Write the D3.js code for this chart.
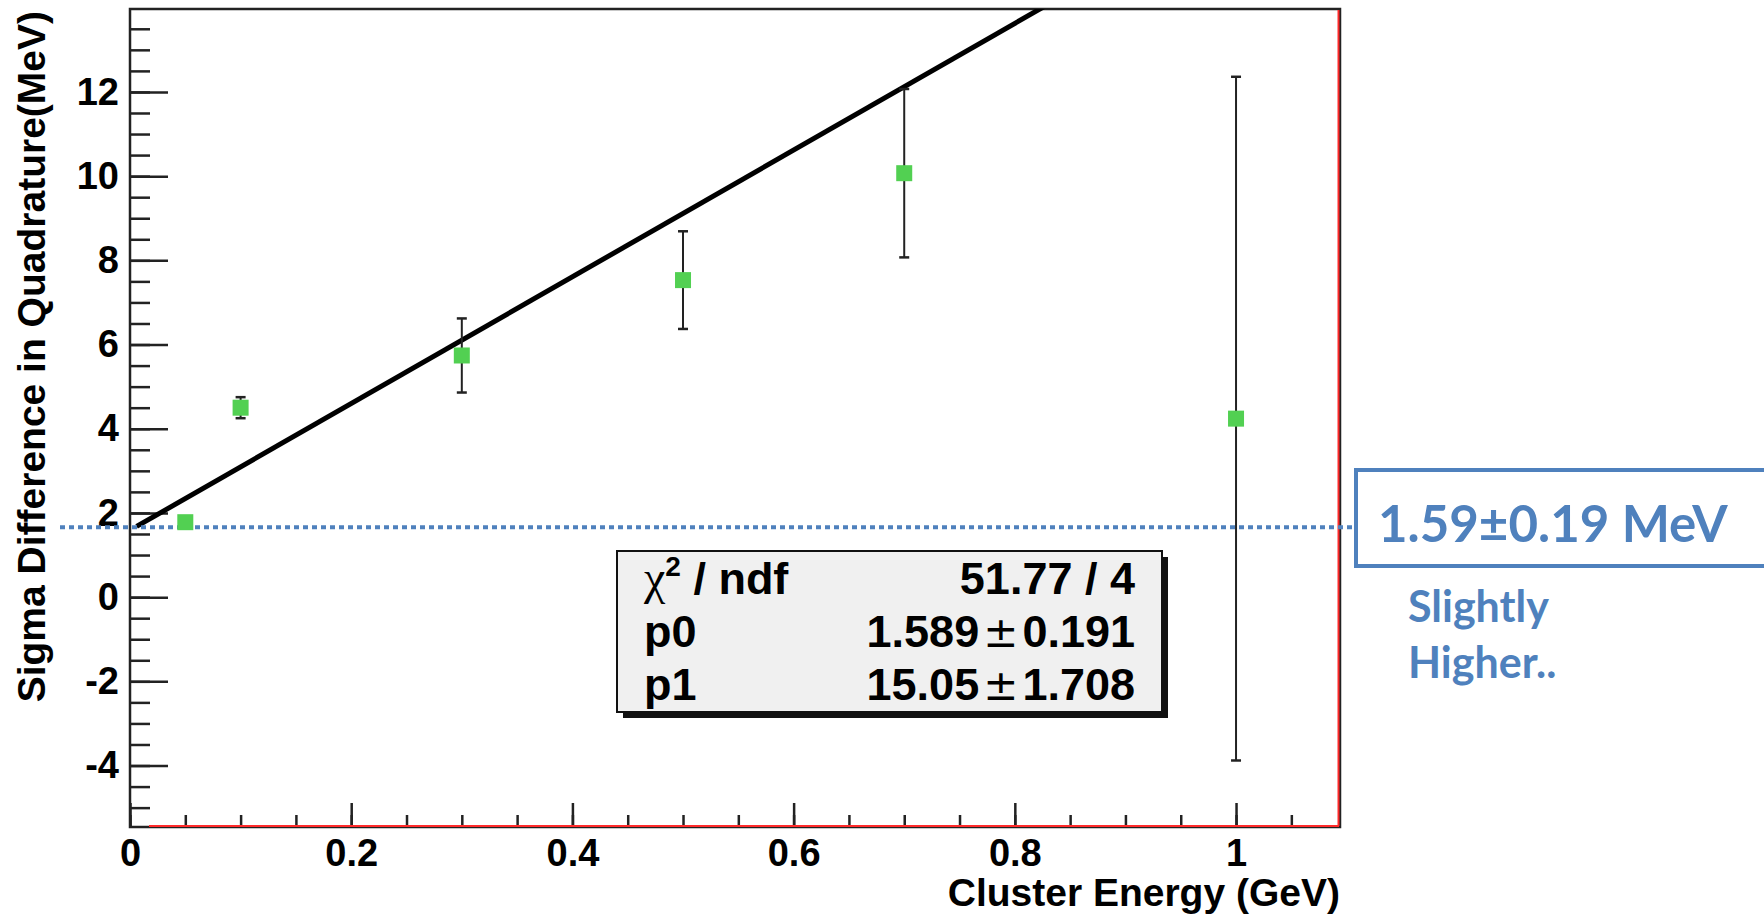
<!DOCTYPE html>
<html>
<head>
<meta charset="utf-8">
<script src="https://cdn.jsdelivr.net/npm/d3@7"></script>
<style>
  body { margin: 0; background: #fff; }
  .tick text { font-family: "Liberation Sans", Arial, sans-serif; font-weight: bold; font-size: 38px; fill: #000; }
  .tick line { stroke: #222; stroke-width: 2.5px; }
</style>
</head>
<body>
<div id="chart"></div>
<script>
// data
const energy = [0.05, 0.1, 0.3, 0.5, 0.7, 1.0];
const sigmaDiff = [1.78, 4.5, 5.74, 7.53, 10.07, 4.24];
const sigmaErr = [0.1, 0.25, 0.88, 1.16, 2.0, 8.12];
const fitP0 = 1.589;
const fitP1 = 15.05;
const fitStart = 0.006;
const xMajorTicks = [0, 0.2, 0.4, 0.6, 0.8, 1];
const xMinorTicks = d3.range(0, 1.09, 0.05);
const yMajorTicks = [-4, -2, 0, 2, 4, 6, 8, 10, 12];
const yMinorTicks = d3.range(-5, 13.9, 0.5);
const statLabels = ['p0', 'p1'];
const statValues = [['1.589', '0.191'], ['15.05', '1.708']];
const chiText = '51.77 / 4';
const annotValue = 1.66;
const annotText = '1.59\u00b10.19 MeV';
const noteLines = ['Slightly', 'Higher..'];

const width = 1764;
const height = 917;
const frame = {left: 130, top: 9, right: 1340, bottom: 827};
const blue = '#4f81bd';

const svg = d3.select('#chart').append('svg')
  .attr('width', width)
  .attr('height', height);

const xScale = d3.scaleLinear()
  .domain([0, 1.094])
  .range([frame.left, frame.right]);

const yScale = d3.scaleLinear()
  .domain([-5.46, 13.97])
  .range([frame.bottom, frame.top]);

svg.append('clipPath').attr('id', 'plotclip')
  .append('rect')
  .attr('x', frame.left).attr('y', frame.top)
  .attr('width', frame.right - frame.left)
  .attr('height', frame.bottom - frame.top);

// axes, ticks pointing inward
const yMinor = svg.append('g')
  .attr('transform', `translate(${frame.left},0)`)
  .call(d3.axisLeft(yScale).tickValues(yMinorTicks).tickSize(-20).tickFormat(''));
yMinor.select('.domain').remove();

const yMajor = svg.append('g')
  .attr('transform', `translate(${frame.left},0)`)
  .call(d3.axisLeft(yScale).tickValues(yMajorTicks).tickSize(-38).tickPadding(11).tickFormat(d => String(d)));
yMajor.select('.domain').remove();

const xMinor = svg.append('g')
  .attr('transform', `translate(0,${frame.bottom})`)
  .call(d3.axisBottom(xScale).tickValues(xMinorTicks).tickSize(-12).tickFormat(''));
xMinor.select('.domain').remove();

const xMajor = svg.append('g')
  .attr('transform', `translate(0,${frame.bottom})`)
  .call(d3.axisBottom(xScale).tickValues(xMajorTicks).tickSize(-24).tickPadding(12).tickFormat(d => String(d)));
xMajor.select('.domain').remove();

// frame
svg.append('rect')
  .attr('x', frame.left).attr('y', frame.top)
  .attr('width', frame.right - frame.left)
  .attr('height', frame.bottom - frame.top)
  .attr('fill', 'none')
  .attr('stroke', '#222')
  .attr('stroke-width', 2.5);

svg.append('line')
  .attr('x1', frame.left + 19).attr('x2', frame.right - 1)
  .attr('y1', frame.bottom - 1).attr('y2', frame.bottom - 1)
  .attr('stroke', '#ff2a2a').attr('stroke-width', 2);
svg.append('line')
  .attr('x1', frame.right - 1.5).attr('x2', frame.right - 1.5)
  .attr('y1', frame.top + 1).attr('y2', frame.bottom - 1)
  .attr('stroke', '#ff2a2a').attr('stroke-width', 2);

// axis titles
svg.append('text')
  .attr('x', frame.right)
  .attr('y', 906)
  .attr('text-anchor', 'end')
  .style('font-family', '"Liberation Sans", Arial, sans-serif')
  .style('font-weight', 'bold')
  .style('font-size', '39px')
  .text('Cluster Energy (GeV)');

svg.append('text')
  .attr('transform', `translate(45,${frame.top + 2}) rotate(-90)`)
  .attr('text-anchor', 'end')
  .style('font-family', '"Liberation Sans", Arial, sans-serif')
  .style('font-weight', 'bold')
  .style('font-size', '39px')
  .text('Sigma Difference in Quadrature(MeV)');

// fit line
const xEnd = yScale.invert(frame.top);
const fitLine = d3.line()
  .x(d => xScale(d))
  .y(d => yScale(fitP0 + fitP1 * d));

svg.append('path')
  .datum([fitStart, (xEnd - fitP0) / fitP1 + 0.01])
  .attr('d', fitLine)
  .attr('clip-path', 'url(#plotclip)')
  .attr('fill', 'none')
  .attr('stroke', '#000')
  .attr('stroke-width', 5);

// dotted annotation line
svg.append('line')
  .attr('x1', 60).attr('x2', 1356)
  .attr('y1', yScale(annotValue)).attr('y2', yScale(annotValue))
  .attr('stroke', blue)
  .attr('stroke-width', 4)
  .attr('stroke-dasharray', '5,4');

// error bars and points
const pts = svg.append('g');
energy.forEach((e, i) => {
  const g = pts.append('g');
  const cx = xScale(e);
  const lo = yScale(sigmaDiff[i] - sigmaErr[i]);
  const hi = yScale(sigmaDiff[i] + sigmaErr[i]);
  g.append('line')
    .attr('x1', cx).attr('x2', cx).attr('y1', lo).attr('y2', hi)
    .attr('stroke', '#222').attr('stroke-width', 2);
  [lo, hi].forEach(yy => {
    g.append('line')
      .attr('x1', cx - 5).attr('x2', cx + 5).attr('y1', yy).attr('y2', yy)
      .attr('stroke', '#222').attr('stroke-width', 2.5);
  });
  g.append('rect')
    .attr('x', cx - 8).attr('y', yScale(sigmaDiff[i]) - 8)
    .attr('width', 16).attr('height', 16)
    .attr('fill', '#52d052');
});

// stats box
const box = {x: 617, y: 551, w: 545, h: 161};
svg.append('rect')
  .attr('x', box.x + 6).attr('y', box.y + 6)
  .attr('width', box.w).attr('height', box.h)
  .attr('fill', '#111');
svg.append('rect')
  .attr('x', box.x).attr('y', box.y)
  .attr('width', box.w).attr('height', box.h)
  .attr('fill', '#f0f0f0')
  .attr('stroke', '#111')
  .attr('stroke-width', 2);

const statFont = '"Liberation Sans", Arial, sans-serif';
const rowY = [594, 647, 700];
const labelX = box.x + 27;
const valueX = box.x + box.w - 27;

const chi = svg.append('text')
  .attr('x', labelX).attr('y', rowY[0])
  .style('font-family', statFont)
  .style('font-weight', 'bold')
  .style('font-size', '45px');
chi.append('tspan')
  .style('font-family', '"Liberation Serif", "DejaVu Serif", serif')
  .style('font-weight', 'normal')
  .style('font-size', '48px')
  .text('\u03c7');
chi.append('tspan')
  .attr('dy', -18)
  .style('font-size', '28px')
  .text('2');
chi.append('tspan')
  .attr('dy', 18)
  .text(' / ndf');

svg.append('text')
  .attr('x', valueX).attr('y', rowY[0])
  .attr('text-anchor', 'end')
  .style('font-family', statFont)
  .style('font-weight', 'bold')
  .style('font-size', '45px')
  .text(chiText);

statLabels.forEach((lab, i) => {
  svg.append('text')
    .attr('x', labelX).attr('y', rowY[i + 1])
    .style('font-family', statFont)
    .style('font-weight', 'bold')
    .style('font-size', '45px')
    .text(lab);
  const t = svg.append('text')
    .attr('x', valueX).attr('y', rowY[i + 1])
    .attr('text-anchor', 'end')
    .style('font-family', statFont)
    .style('font-weight', 'bold')
    .style('font-size', '45px');
  t.append('tspan').text(statValues[i][0]);
  t.append('tspan')
    .style('font-weight', 'normal')
    .style('font-family', '"DejaVu Sans", sans-serif')
    .style('font-size', '42px')
    .attr('dx', 4)
    .text('\u00b1');
  t.append('tspan').attr('dx', 4).text(statValues[i][1]);
});

// annotation box on the right
svg.append('rect')
  .attr('x', 1356).attr('y', 470)
  .attr('width', 440).attr('height', 96)
  .attr('fill', '#fff')
  .attr('stroke', blue)
  .attr('stroke-width', 4);

svg.append('text')
  .attr('x', 1378).attr('y', 542)
  .attr('fill', blue)
  .style('font-family', 'Lato, "Open Sans", sans-serif')
  .style('font-weight', 'bold')
  .style('font-size', '51px')
  .text(annotText);

noteLines.forEach((line, i) => {
  svg.append('text')
    .attr('x', 1408).attr('y', 622 + i * 56)
    .attr('fill', blue)
    .style('font-family', 'Lato, "Open Sans", sans-serif')
    .style('font-weight', 'bold')
    .style('font-size', '43px')
    .text(line);
});
</script>
</body>
</html>
